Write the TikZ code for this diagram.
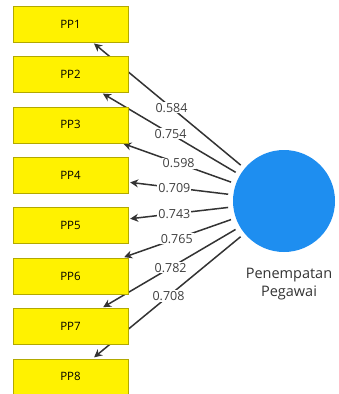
\documentclass[tikz,border=0pt]{standalone}
\usepackage{fontspec}
\setmainfont{Open Sans}
\usetikzlibrary{arrows.meta,backgrounds}
\definecolor{lvblue}{HTML}{1E8EF0}
\definecolor{ppyellow}{HTML}{FFF200}

\begin{document}
\begin{tikzpicture}[x=1pt,y=-1pt,
    indicator/.style={rectangle,draw=ppyellow!70!black,fill=ppyellow,
        minimum width=115pt,minimum height=36pt,inner sep=0pt,
        font=\fontsize{11.5}{13}\selectfont},
    loading/.style={-{Stealth[length=8pt,width=8pt]},line width=1.5pt,
        draw=black!80,shorten >=2pt,shorten <=5pt},
    weight/.style={fill=white,inner sep=1pt,text=black!75,
        font=\fontsize{12.5}{14}\selectfont}]
    \useasboundingbox (0,0) rectangle (338,394);
    % latent variable
    \node[circle,fill=lvblue,minimum size=102pt,inner sep=0pt] (lv) at (284,201) {};
    \node[align=center,text=black!80,font=\fontsize{14.5}{18}\selectfont]
        (lvname) at (289,284) {Penempatan\\Pegawai};
    % indicators with their outer loadings
    \foreach \n/\l/\p in{
        1/0.584/0.48,
        2/0.754/0.5,
        3/0.598/0.5,
        4/0.709/0.56,
        5/0.743/0.56,
        6/0.765/0.52,
        7/0.782/0.5,
        8/0.708/0.5
        }
        {
            \node[indicator] (pp\n) at (70.5,{24+50.4*(\n-1)}) {PP\n};
            \begin{pgfonlayer}{background}
                \draw[loading] (lv) -- (pp\n) node[weight,pos=\p] {\l};
            \end{pgfonlayer}
        }
\end{tikzpicture}
\end{document}
